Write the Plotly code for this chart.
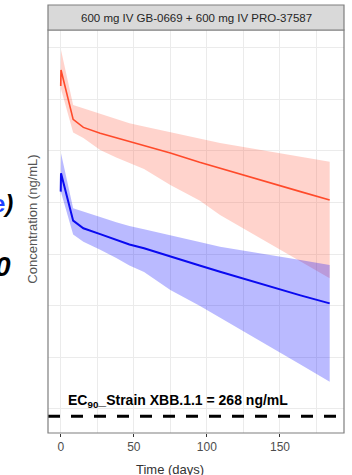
import plotly.graph_objects as go

# ---------------- data ----------------
time_days = [0, 0.2, 8.5, 15.5, 27, 38, 47, 57, 75, 95, 109, 128, 146, 164, 184]

# GB-0669 (red) concentration, ng/mL
red_median = [426000, 608000, 202000, 169000, 148000, 134000, 125000, 113000,
              95500, 77600, 67800, 56200, 47300, 40300, 33400]
red_upper = [631000, 951000, 279000, 259000, 229000, 204000, 185000, 172000,
             152000, 131000, 119000, 107000, 96800, 87900, 78500]
red_lower = [355000, 398000, 151000, 133000, 102000, 86300, 76400, 66800,
             46800, 33100, 23900, 16700, 11900, 8510, 5830]

# PRO-37587 (blue) concentration, ng/mL
blue_median = [40300, 60700, 21100, 17800, 15600, 13800, 12400, 11400,
               9440, 7760, 6750, 5620, 4680, 3980, 3330]
blue_upper = [50100, 94800, 27800, 25700, 22900, 20400, 18700, 17400,
              15100, 13100, 11800, 10700, 9660, 8750, 7830]
blue_lower = [35500, 39800, 15500, 13200, 11000, 9160, 7760, 6700,
              4490, 3160, 2390, 1660, 1200, 851, 581]

ec90_value = 268
ec90_label = "EC<sub>90</sub>_Strain XBB.1.1 = 268 ng/mL"
panel_title = "600 mg IV GB-0669 + 600 mg IV PRO-37587"
x_ticks = [0, 50, 100, 150]
x_minor = [25, 75, 125, 175]
y_grid = [316.2, 1000, 3162, 10000, 31620, 100000, 316200, 1000000]
x_range = [-8.7, 193.8]
y_range_log = [2.2665, 6.1715]

# ---------------- figure ----------------
W, H = 352, 475
ML, MR, MT, MB = 48, 8, 30, 42
PW, PH = W - ML - MR, H - MT - MB


def px_x(p):
    return (p - ML) / PW


def px_y(p):
    return (H - MB - p) / PH


FONT = "Liberation Sans, Arial, sans-serif"
fig = go.Figure()

def band(t, lo, hi, color):
    fig.add_trace(go.Scatter(
        x=list(t) + list(t)[::-1], y=list(hi) + list(lo)[::-1],
        fill="toself", fillcolor=color, line=dict(width=0),
        mode="lines", hoverinfo="skip", showlegend=False))

band(time_days, red_lower, red_upper, "rgba(255,80,50,0.25)")
band(time_days, blue_lower, blue_upper, "rgba(0,0,255,0.27)")

fig.add_trace(go.Scatter(x=time_days, y=red_median, mode="lines",
                         line=dict(color="#ff4a2a", width=1.6),
                         showlegend=False, hoverinfo="skip"))
fig.add_trace(go.Scatter(x=time_days, y=blue_median, mode="lines",
                         line=dict(color="#0a0af0", width=2),
                         showlegend=False, hoverinfo="skip"))

fig.add_trace(go.Scatter(x=x_range, y=[ec90_value, ec90_value], mode="lines",
                         line=dict(color="black", width=3, dash="12px,11px"),
                         showlegend=False, hoverinfo="skip"))

fig.update_layout(
    width=W, height=H,
    margin=dict(l=ML, r=MR, t=MT, b=MB),
    paper_bgcolor="white", plot_bgcolor="white",
    font=dict(family=FONT),
    xaxis=dict(range=x_range, tickvals=x_ticks, ticks="outside", ticklen=3,
               tickcolor="#333333", tickwidth=1,
               tickfont=dict(size=12, color="#4d4d4d", family=FONT),
               showgrid=True, gridcolor="#ebebeb", gridwidth=1,
               minor=dict(tickvals=x_minor, showgrid=True, gridcolor="#ebebeb",
                          gridwidth=1, ticks=""),
               zeroline=False, showline=False),
    yaxis=dict(type="log", range=y_range_log, tickvals=y_grid,
               showticklabels=False, ticks="",
               showgrid=True, gridcolor="#ebebeb", gridwidth=1,
               zeroline=False, showline=False),
    shapes=[
        dict(type="rect", xref="paper", yref="paper", x0=0, x1=1, y0=0, y1=1,
             line=dict(color="#7f7f7f", width=1.2), fillcolor="rgba(0,0,0,0)"),
        dict(type="rect", xref="paper", yref="paper", x0=0, x1=1,
             y0=1, y1=px_y(5), line=dict(color="#7f7f7f", width=1.2),
             fillcolor="#d9d9d9"),
    ],
    annotations=[
        dict(text=panel_title, xref="paper", yref="paper", x=0.5, y=px_y(17.5),
             xanchor="center", yanchor="middle", showarrow=False,
             font=dict(size=11.5, color="#262626", family=FONT)),
        dict(text="Concentration (ng/mL)", xref="paper", yref="paper",
             x=px_x(31.7), y=px_y(219), xanchor="center", yanchor="middle",
             textangle=-90, showarrow=False,
             font=dict(size=13, color="#555555", family=FONT)),
        dict(text="Time (days)", xref="paper", yref="paper",
             x=px_x(170), y=px_y(469), xanchor="center", yanchor="middle",
             showarrow=False, font=dict(size=13, color="#333333", family=FONT)),
        dict(text="<b>" + ec90_label + "</b>", xref="paper", yref="paper",
             x=px_x(66), y=px_y(401), xanchor="left", yanchor="middle",
             showarrow=False, font=dict(size=14, color="black", family=FONT)),
        dict(text="<b><span style='color:#1f3fff'>e</span><i>)</i></b>",
             xref="paper", yref="paper", x=px_x(15), y=px_y(203),
             xanchor="right", yanchor="middle", showarrow=False,
             font=dict(size=24, color="black", family=FONT)),
        dict(text="<b><i>0</i></b>", xref="paper", yref="paper",
             x=px_x(13), y=px_y(266), xanchor="right", yanchor="middle",
             showarrow=False, font=dict(size=28, color="black", family=FONT)),
    ],
)

fig.write_html("out.html")
